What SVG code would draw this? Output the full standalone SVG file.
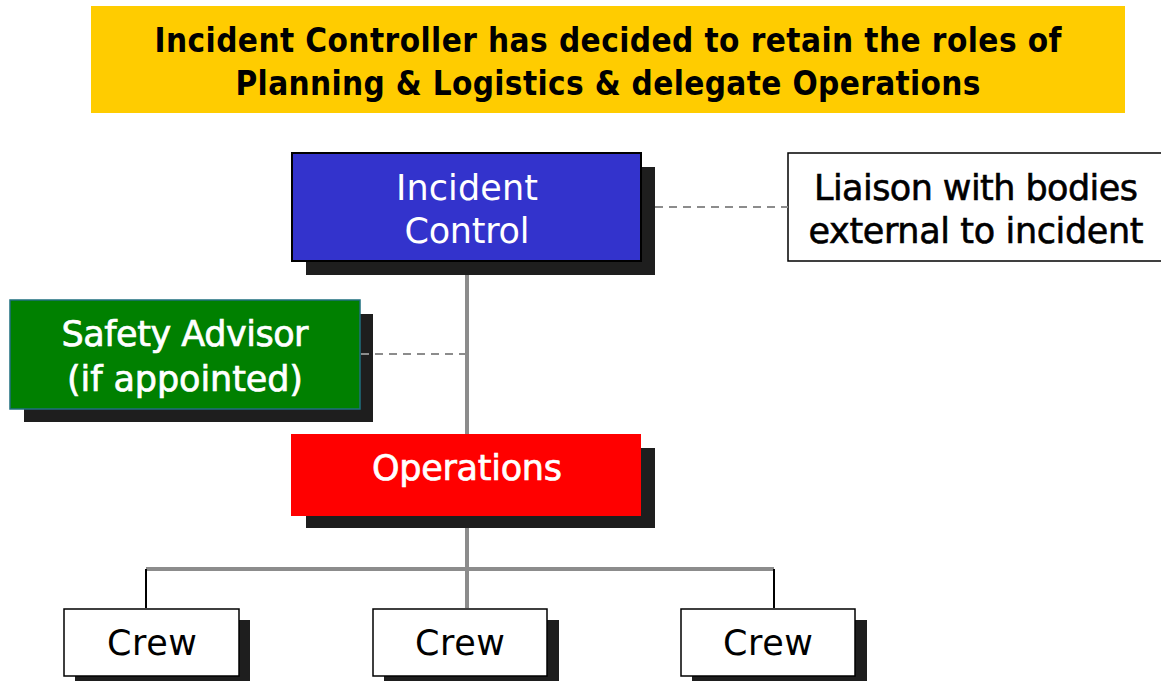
<svg xmlns="http://www.w3.org/2000/svg" width="1161" height="681" viewBox="0 0 1161 681">
<style>
.shadow{fill:#1e1e1e}
.t{font-family:"DejaVu Sans","Liberation Sans",Arial,sans-serif;font-size:35px;text-anchor:middle}
.tt{font-family:"DejaVu Sans Condensed","DejaVu Sans","Liberation Sans",Arial,sans-serif;font-size:33px;font-weight:bold;text-anchor:middle;fill:#000}
.w{fill:#ffffff}
.b{fill:#000000}
.sw{stroke:#ffffff;stroke-width:0.7}
.sb{stroke:#000000;stroke-width:0.6}
.grey{stroke:#8c8c8c;stroke-width:4;fill:none}
.thin{stroke:#000;stroke-width:2;fill:none}
.dash{stroke:#8c8c8c;stroke-width:2;stroke-dasharray:8,6;fill:none}
</style>
<rect width="1161" height="681" fill="#ffffff"/>
<g id="title">
<rect x="91" y="6" width="1034" height="107" fill="#ffcc00"/>
<text class="tt" x="608" y="52" textLength="907">Incident Controller has decided to retain the roles of</text>
<text class="tt" x="608" y="95" textLength="745">Planning &amp; Logistics &amp; delegate Operations</text>
</g>
<g id="incident-control">
<rect class="shadow" x="306" y="167" width="349" height="108"/>
<rect x="292" y="153" width="349" height="108" fill="#3333cc" stroke="#000" stroke-width="2"/>
<text class="t w" x="467" y="200" textLength="142">Incident</text>
<text class="t w" x="467" y="243" textLength="125">Control</text>
</g>
<g id="liaison">
<rect x="788" y="153" width="380" height="108" fill="#ffffff" stroke="#000" stroke-width="1.5"/>
<text class="t b sb" x="976" y="200" font-size="34" textLength="324">Liaison with bodies</text>
<text class="t b sb" x="976" y="243" font-size="34" textLength="335">external to incident</text>
</g>
<g id="safety-advisor">
<rect class="shadow" x="24" y="314" width="349" height="108"/>
<rect x="10" y="300" width="350" height="109" fill="#008000" stroke="#1f6f7f" stroke-width="1.5"/>
<text class="t w sw" x="185" y="346" textLength="247">Safety Advisor</text>
<text class="t w sw" x="185" y="391" textLength="236">(if appointed)</text>
</g>
<g id="operations">
<rect class="shadow" x="306" y="448" width="349" height="80"/>
<rect x="291" y="434" width="350" height="82" fill="#ff0000"/>
<text class="t w sw" x="467" y="480" textLength="190">Operations</text>
</g>
<g id="crew-1">
<rect class="shadow" x="75" y="620" width="175" height="67"/>
<rect x="64" y="609" width="175" height="67" fill="#ffffff" stroke="#000" stroke-width="1.5"/>
<text class="t b" x="152" y="655" textLength="90">Crew</text>
</g>
<g id="crew-2">
<rect class="shadow" x="384" y="620" width="175" height="67"/>
<rect x="373" y="609" width="174" height="67" fill="#ffffff" stroke="#000" stroke-width="1.5"/>
<text class="t b" x="460" y="655" textLength="90">Crew</text>
</g>
<g id="crew-3">
<rect class="shadow" x="692" y="620" width="175" height="67"/>
<rect x="681" y="609" width="174" height="67" fill="#ffffff" stroke="#000" stroke-width="1.5"/>
<text class="t b" x="768" y="655" textLength="90">Crew</text>
</g>
<g id="connectors">
<line class="grey" x1="467" y1="275" x2="467" y2="434"/>
<line class="grey" x1="467" y1="528" x2="467" y2="608"/>
<line class="grey" x1="146" y1="569" x2="774" y2="569"/>
<line class="thin" x1="146" y1="569" x2="146" y2="608"/>
<line class="thin" x1="774" y1="569" x2="774" y2="608"/>
<line class="dash" x1="655" y1="207" x2="788" y2="207"/>
<line class="dash" x1="361" y1="354" x2="466" y2="354"/>
</g>
</svg>
